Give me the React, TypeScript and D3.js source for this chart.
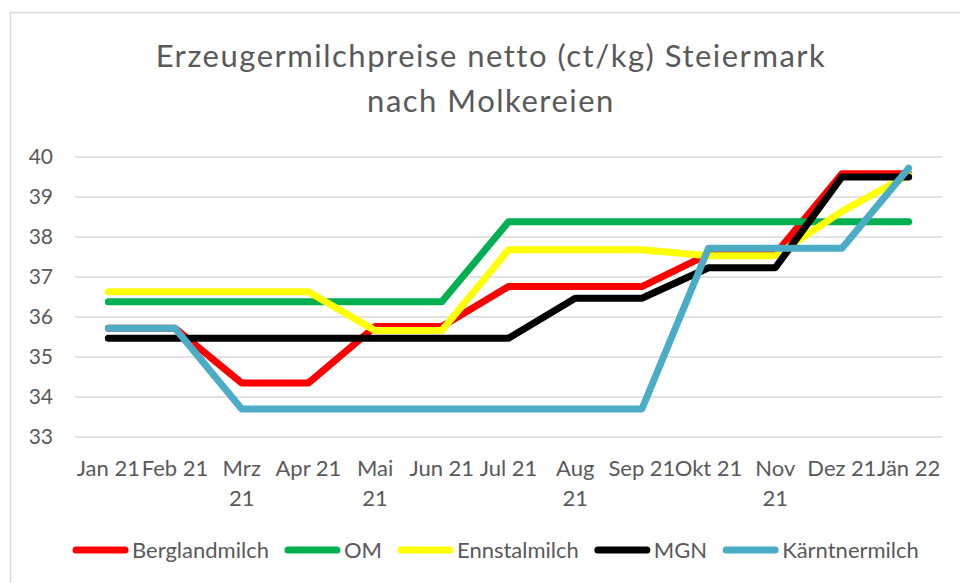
import { useRef, useEffect } from "react";
import * as d3 from "d3";

const months = ["Jan 21", "Feb 21", "Mrz 21", "Apr 21", "Mai 21", "Jun 21", "Jul 21", "Aug 21", "Sep 21", "Okt 21", "Nov 21", "Dez 21", "Jän 22"];
const wrappedMonths = ["Mrz 21", "Mai 21", "Aug 21", "Nov 21"];
const yTicks = [33, 34, 35, 36, 37, 38, 39, 40];

const berglandmilch = [35.72, 35.72, 34.35, 34.35, 35.76, 35.76, 36.76, 36.76, 36.76, 37.57, 37.57, 39.58, 39.58];
const om = [36.38, 36.38, 36.38, 36.38, 36.38, 36.38, 38.38, 38.38, 38.38, 38.38, 38.38, 38.38, 38.38];
const ennstalmilch = [36.63, 36.63, 36.63, 36.63, 35.66, 35.66, 37.68, 37.68, 37.68, 37.53, 37.53, 38.64, 39.55];
const mgn = [35.47, 35.47, 35.47, 35.47, 35.47, 35.47, 35.47, 36.47, 36.47, 37.23, 37.23, 39.5, 39.5];
const kaerntnermilch = [35.72, 35.72, 33.7, 33.7, 33.7, 33.7, 33.7, 33.7, 33.7, 37.72, 37.72, 37.72, 39.72];

const seriesNames = ["Berglandmilch", "OM", "Ennstalmilch", "MGN", "Kärntnermilch"];
const seriesColors = ["#ff0000", "#00b050", "#ffff00", "#000000", "#4bacc6"];
const seriesValues = [berglandmilch, om, ennstalmilch, mgn, kaerntnermilch];

const FONT = "Lato, 'Open Sans', sans-serif";
const TEXT = "#595959";

const Chart = () => {
  const chartRef = useRef<SVGSVGElement | null>(null);

  useEffect(() => {
    const svg = d3.select(chartRef.current);
    svg.selectAll("*").remove();

    const width = 960;
    const height = 583;
    const plot = { left: 75, right: 942, top: 157, bottom: 437 };

    svg.attr("width", width).attr("height", height);

    svg
      .append("rect")
      .attr("x", 10.5)
      .attr("y", 12.5)
      .attr("width", 980)
      .attr("height", 600)
      .attr("fill", "#fff")
      .attr("stroke", "#d9d9d9")
      .attr("stroke-width", 1.5);

    // title
    const title = svg
      .append("text")
      .attr("text-anchor", "middle")
      .attr("font-family", FONT)
      .attr("font-size", 31)
      .attr("letter-spacing", 1.5)
      .attr("fill", TEXT);
    title.append("tspan").attr("x", 491).attr("y", 67).text("Erzeugermilchpreise netto (ct/kg) Steiermark");
    title.append("tspan").attr("x", 491).attr("y", 112).text("nach Molkereien");

    const x = d3
      .scalePoint<string>()
      .domain(months)
      .range([plot.left, plot.right])
      .padding(0.5);

    const y = d3.scaleLinear().domain([33, 40]).range([plot.bottom, plot.top]);

    // gridlines
    svg
      .append("g")
      .selectAll("line")
      .data(yTicks)
      .enter()
      .append("line")
      .attr("x1", plot.left)
      .attr("x2", plot.right)
      .attr("y1", d => y(d))
      .attr("y2", d => y(d))
      .attr("stroke", "#d9d9d9")
      .attr("stroke-width", 1.5);

    // y labels
    svg
      .append("g")
      .selectAll("text")
      .data(yTicks)
      .enter()
      .append("text")
      .attr("x", 53)
      .attr("y", d => y(d))
      .attr("dy", "0.35em")
      .attr("text-anchor", "end")
      .attr("font-family", FONT)
      .attr("font-size", 21)
      .attr("fill", TEXT)
      .text(d => d);

    // x labels
    const xl = svg
      .append("g")
      .selectAll("text")
      .data(months)
      .enter()
      .append("text")
      .attr("text-anchor", "middle")
      .attr("font-family", FONT)
      .attr("font-size", 22)
      .attr("fill", TEXT);
    xl.each(function (d) {
      const t = d3.select(this);
      const lines = wrappedMonths.includes(d) ? d.split(" ") : [d];
      lines.forEach((ln, i) => {
        t.append("tspan")
          .attr("x", x(d) as number)
          .attr("y", 476 + i * 30)
          .text(ln);
      });
    });

    // lines
    const line = d3
      .line<number>()
      .x((_d, i) => x(months[i]) as number)
      .y(d => y(d));

    svg
      .append("g")
      .selectAll("path")
      .data(seriesValues)
      .enter()
      .append("path")
      .attr("d", d => line(d))
      .attr("fill", "none")
      .attr("stroke", (_d, i) => seriesColors[i])
      .attr("stroke-width", 7)
      .attr("stroke-linecap", "round")
      .attr("stroke-linejoin", "round");

    // legend
    const legend = svg.append("g");
    let lx = 73;
    const ly = 550;
    seriesNames.forEach((name, i) => {
      legend
        .append("line")
        .attr("x1", lx + 3)
        .attr("x2", lx + 52)
        .attr("y1", ly)
        .attr("y2", ly)
        .attr("stroke", seriesColors[i])
        .attr("stroke-width", 7)
        .attr("stroke-linecap", "round");
      const txt = legend
        .append("text")
        .attr("x", lx + 59)
        .attr("y", ly)
        .attr("dy", "0.35em")
        .attr("font-family", FONT)
        .attr("font-size", 22)
        .attr("fill", TEXT)
        .text(name);
      const w = (txt.node() as SVGTextElement).getComputedTextLength();
      lx = lx + 59 + w + 16;
    });
  }, []);

  return <svg ref={chartRef} style={{ position: "absolute", left: 0, top: 0 }}></svg>;
};

export default function App() {
  return <Chart />;
}
